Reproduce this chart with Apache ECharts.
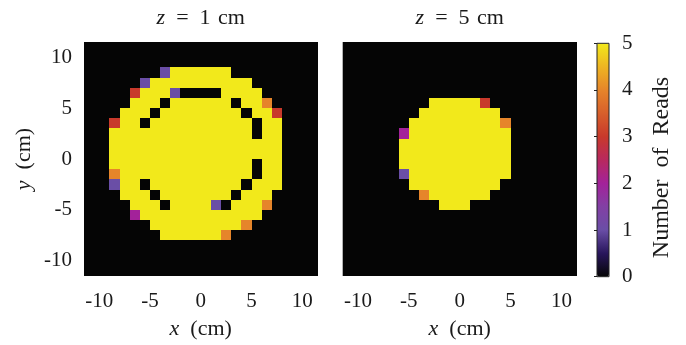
<!DOCTYPE html>
<html><head><meta charset="utf-8">
<script src="https://cdn.jsdelivr.net/npm/echarts@6/dist/echarts.min.js"></script>
<style>html,body{margin:0;padding:0;background:#fff}#c{width:686px;height:345px}</style>
</head><body><div id="c"></div>
<script>
// cell centres (cm)
const xCenters = [-11.5,-10.5,-9.5,-8.5,-7.5,-6.5,-5.5,-4.5,-3.5,-2.5,-1.5,-0.5,0.5,1.5,2.5,3.5,4.5,5.5,6.5,7.5,8.5,9.5,10.5,11.5];
const yCenters = [11.5,10.5,9.5,8.5,7.5,6.5,5.5,4.5,3.5,2.5,1.5,0.5,-0.5,-1.5,-2.5,-3.5,-4.5,-5.5,-6.5,-7.5,-8.5,-9.5,-10.5,-11.5];
// number of reads, rows top (y=11.5) to bottom (y=-11.5), columns x=-11.5..11.5
const readsZ1 = [
[0,0,0,0,0,0,0,0,0,0,0,0,0,0,0,0,0,0,0,0,0,0,0,0],
[0,0,0,0,0,0,0,0,0,0,0,0,0,0,0,0,0,0,0,0,0,0,0,0],
[0,0,0,0,0,0,0,0,0,0,0,0,0,0,0,0,0,0,0,0,0,0,0,0],
[0,0,0,0,0,0,0,0,1,5,5,5,5,5,5,0,0,0,0,0,0,0,0,0],
[0,0,0,0,0,0,1,5,5,5,5,5,5,5,5,5,5,0,0,0,0,0,0,0],
[0,0,0,0,0,3,5,5,5,1,0,0,0,0,5,5,5,5,0,0,0,0,0,0],
[0,0,0,0,0,5,5,5,0,5,5,5,5,5,5,0,5,5,4,0,0,0,0,0],
[0,0,0,0,5,5,5,0,5,5,5,5,5,5,5,5,0,5,5,3,0,0,0,0],
[0,0,0,3,5,5,0,5,5,5,5,5,5,5,5,5,5,0,5,5,0,0,0,0],
[0,0,0,5,5,5,5,5,5,5,5,5,5,5,5,5,5,0,5,5,0,0,0,0],
[0,0,0,5,5,5,5,5,5,5,5,5,5,5,5,5,5,5,5,5,0,0,0,0],
[0,0,0,5,5,5,5,5,5,5,5,5,5,5,5,5,5,5,5,5,0,0,0,0],
[0,0,0,5,5,5,5,5,5,5,5,5,5,5,5,5,5,0,5,5,0,0,0,0],
[0,0,0,4,5,5,5,5,5,5,5,5,5,5,5,5,5,0,5,5,0,0,0,0],
[0,0,0,1,5,5,0,5,5,5,5,5,5,5,5,5,0,5,5,5,0,0,0,0],
[0,0,0,0,5,5,5,0,5,5,5,5,5,5,5,0,5,5,5,0,0,0,0,0],
[0,0,0,0,0,5,5,5,0,5,5,5,5,1,0,5,5,5,4,0,0,0,0,0],
[0,0,0,0,0,2,5,5,5,5,5,5,5,5,5,5,5,5,0,0,0,0,0,0],
[0,0,0,0,0,0,0,5,5,5,5,5,5,5,5,5,4,0,0,0,0,0,0,0],
[0,0,0,0,0,0,0,0,5,5,5,5,5,5,4,0,0,0,0,0,0,0,0,0],
[0,0,0,0,0,0,0,0,0,0,0,0,0,0,0,0,0,0,0,0,0,0,0,0],
[0,0,0,0,0,0,0,0,0,0,0,0,0,0,0,0,0,0,0,0,0,0,0,0],
[0,0,0,0,0,0,0,0,0,0,0,0,0,0,0,0,0,0,0,0,0,0,0,0],
[0,0,0,0,0,0,0,0,0,0,0,0,0,0,0,0,0,0,0,0,0,0,0,0]
];
const readsZ5 = [
[0,0,0,0,0,0,0,0,0,0,0,0,0,0,0,0,0,0,0,0,0,0,0,0],
[0,0,0,0,0,0,0,0,0,0,0,0,0,0,0,0,0,0,0,0,0,0,0,0],
[0,0,0,0,0,0,0,0,0,0,0,0,0,0,0,0,0,0,0,0,0,0,0,0],
[0,0,0,0,0,0,0,0,0,0,0,0,0,0,0,0,0,0,0,0,0,0,0,0],
[0,0,0,0,0,0,0,0,0,0,0,0,0,0,0,0,0,0,0,0,0,0,0,0],
[0,0,0,0,0,0,0,0,0,0,0,0,0,0,0,0,0,0,0,0,0,0,0,0],
[0,0,0,0,0,0,0,0,0,5,5,5,5,5,3,0,0,0,0,0,0,0,0,0],
[0,0,0,0,0,0,0,0,5,5,5,5,5,5,5,5,0,0,0,0,0,0,0,0],
[0,0,0,0,0,0,0,5,5,5,5,5,5,5,5,5,4,0,0,0,0,0,0,0],
[0,0,0,0,0,0,2,5,5,5,5,5,5,5,5,5,5,0,0,0,0,0,0,0],
[0,0,0,0,0,0,5,5,5,5,5,5,5,5,5,5,5,0,0,0,0,0,0,0],
[0,0,0,0,0,0,5,5,5,5,5,5,5,5,5,5,5,0,0,0,0,0,0,0],
[0,0,0,0,0,0,5,5,5,5,5,5,5,5,5,5,5,0,0,0,0,0,0,0],
[0,0,0,0,0,0,1,5,5,5,5,5,5,5,5,5,5,0,0,0,0,0,0,0],
[0,0,0,0,0,0,0,5,5,5,5,5,5,5,5,5,0,0,0,0,0,0,0,0],
[0,0,0,0,0,0,0,0,4,5,5,5,5,5,5,0,0,0,0,0,0,0,0,0],
[0,0,0,0,0,0,0,0,0,0,5,5,5,0,0,0,0,0,0,0,0,0,0,0],
[0,0,0,0,0,0,0,0,0,0,0,0,0,0,0,0,0,0,0,0,0,0,0,0],
[0,0,0,0,0,0,0,0,0,0,0,0,0,0,0,0,0,0,0,0,0,0,0,0],
[0,0,0,0,0,0,0,0,0,0,0,0,0,0,0,0,0,0,0,0,0,0,0,0],
[0,0,0,0,0,0,0,0,0,0,0,0,0,0,0,0,0,0,0,0,0,0,0,0],
[0,0,0,0,0,0,0,0,0,0,0,0,0,0,0,0,0,0,0,0,0,0,0,0],
[0,0,0,0,0,0,0,0,0,0,0,0,0,0,0,0,0,0,0,0,0,0,0,0],
[0,0,0,0,0,0,0,0,0,0,0,0,0,0,0,0,0,0,0,0,0,0,0,0]
];
const axisTicks = [-10,-5,0,5,10];
const colorbarTicks = [0,1,2,3,4,5];
const panelZ = ['1','5'];
const paletteColors = ['#050505','#28165c','#6a4ea6','#8240a4','#a3229a','#b8285e','#c8392b','#d85f2b','#e6852a','#eeb522','#f2e91b'];

const FONT = "'Liberation Serif', 'DejaVu Serif', serif";
const TXT = '#1a1a1a';
const SP = '\u2002';

function toTriples(mat){
  const out = [];
  mat.forEach((row, r) => row.forEach((v, c) => out.push([xCenters[c], yCenters[r], v])));
  return out;
}

function renderCell(params, api){
  const x = api.value(0), y = api.value(1);
  const p0 = api.coord([x - 0.5, y + 0.5]);
  const p1 = api.coord([x + 0.5, y - 0.5]);
  const cs = params.coordSys;
  const cx0 = Math.round(cs.x), cy0 = Math.round(cs.y);
  const cx1 = Math.round(cs.x + cs.width), cy1 = Math.round(cs.y + cs.height);
  const x0 = Math.max(Math.round(p0[0]), cx0), x1 = Math.min(Math.round(p1[0]), cx1);
  const y0 = Math.max(Math.round(p0[1]), cy0), y1 = Math.min(Math.round(p1[1]), cy1);
  if (x1 <= x0 || y1 <= y0) return;
  const col = api.visual('color');
  return {type: 'rect', shape: {x: x0, y: y0, width: x1 - x0, height: y1 - y0}, style: {fill: col}};
}

const gridTop = 42, gridH = 235;
const grids = [
  {left: 84, top: gridTop, width: 233.5, height: gridH, show: true, backgroundColor: '#050505', borderWidth: 0},
  {left: 342.7, top: gridTop, width: 234, height: gridH, show: true, backgroundColor: '#050505', borderWidth: 0},
  {left: 597, top: 43.3, width: 12, height: 233.4, show: true, backgroundColor: 'transparent', borderColor: '#222', borderWidth: 1, z: 10}
];

const richI = (size) => ({i: {fontStyle: 'italic', fontFamily: FONT, fontSize: size, color: TXT}});

function xAx(gi){
  return {
    type: 'value', gridIndex: gi, min: -11.5, max: 11.5,
    axisLine: {show: false}, splitLine: {show: false},
    axisTick: {show: false},
    axisLabel: {customValues: axisTicks, fontFamily: FONT, fontSize: 21, color: TXT, margin: 15},
    name: '{i|x}' + SP + '(cm)', nameLocation: 'middle', nameGap: 42,
    nameTextStyle: {fontFamily: FONT, fontSize: 22, color: TXT, rich: richI(22)}
  };
}
function yAx(gi, showLabels){
  return {
    type: 'value', gridIndex: gi, min: -11.5, max: 11.5,
    axisLine: {show: false}, splitLine: {show: false}, axisTick: {show: false},
    axisLabel: {show: showLabels, customValues: axisTicks, fontFamily: FONT, fontSize: 21, color: TXT, margin: 12, padding: [8,0,0,0]},
    name: showLabels ? '{i|y}' + SP + '(cm)' : '', nameLocation: 'middle', nameGap: 49, nameRotate: 90,
    nameTextStyle: {fontFamily: FONT, fontSize: 22, color: TXT, rich: richI(22)}
  };
}

const chart = echarts.init(document.getElementById('c'), null, {renderer: 'canvas'});
chart.setOption({
  animation: false,
  backgroundColor: '#ffffff',
  grid: grids,
  xAxis: [xAx(0), xAx(1), {type: 'value', gridIndex: 2, show: false, min: 0, max: 1}],
  yAxis: [yAx(0, true), yAx(1, false), {
    type: 'value', gridIndex: 2, min: 0, max: 5, interval: 1, position: 'right', z: 12,
    axisLine: {show: false}, splitLine: {show: false},
    axisTick: {show: true, inside: true, length: 3, lineStyle: {color: '#222', width: 1}, customValues: colorbarTicks},
    axisLabel: {customValues: colorbarTicks, fontFamily: FONT, fontSize: 21, color: TXT, margin: 13, padding: [8,0,0,0]},
    name: 'Number' + SP + 'of' + SP + 'Reads', nameLocation: 'middle', nameGap: 41, nameRotate: 90,
    nameTextStyle: {fontFamily: FONT, fontSize: 24, color: TXT, padding: [0, 15, 0, 0]}
  }],
  visualMap: {
    type: 'continuous', min: 0, max: 5, dimension: 2, seriesIndex: [0, 1],
    inRange: {color: paletteColors}, calculable: false, orient: 'vertical',
    left: 597, top: 43.3, itemWidth: 12, itemHeight: 233.4, padding: 0, z: 2,
    textStyle: {color: 'transparent'}
  },
  graphic: panelZ.map((z, k) => ({
    type: 'text', x: k === 0 ? 200.7 : 459.7, y: 18,
    style: {text: '{i|z}' + SP + '=' + SP + z + '\u2004cm', align: 'center', verticalAlign: 'middle',
      font: '22px ' + FONT, fill: TXT,
      rich: {i: {fontStyle: 'italic', fontFamily: FONT, fontSize: 22, fill: TXT}}}
  })),
  series: [readsZ1, readsZ5].map((m, k) => ({
    type: 'custom', xAxisIndex: k, yAxisIndex: k, renderItem: renderCell,
    dimensions: ['x', 'y', 'reads'], encode: {x: 0, y: 1},
    data: toTriples(m), silent: true
  }))
});
</script></body></html>
